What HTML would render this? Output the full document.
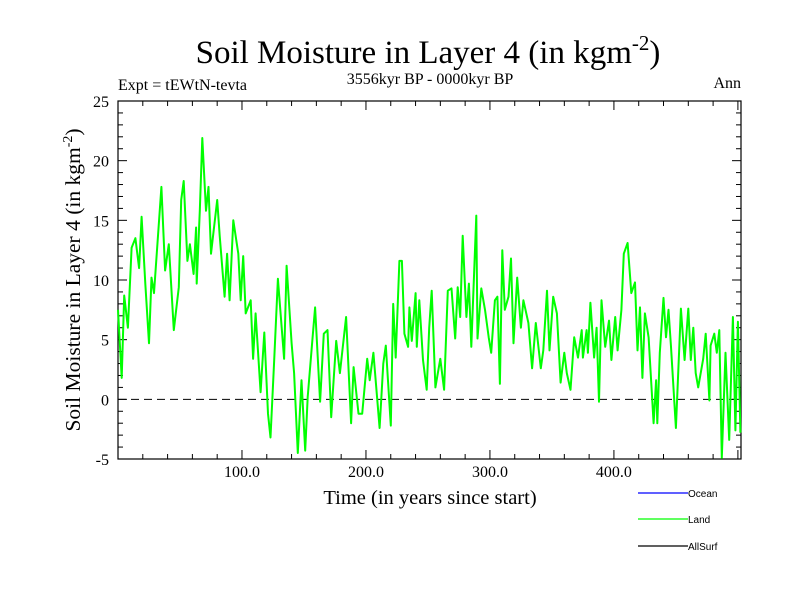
<!DOCTYPE html>
<html><head><meta charset="utf-8"><style>
body{margin:0;background:#fff;}
svg text{font-family:"Liberation Serif",serif;}
</style></head><body>
<svg id="chart" width="800" height="600" xmlns="http://www.w3.org/2000/svg">
<rect width="800" height="600" fill="#fff"/>
<text x="428" y="63" font-size="33" text-anchor="middle">Soil Moisture in Layer 4 (in kgm<tspan dy="-13" font-size="21">-2</tspan><tspan dy="13">)</tspan></text>
<text x="118" y="90" font-size="16">Expt = tEWtN-tevta</text>
<text x="430" y="84" font-size="16" text-anchor="middle">3556kyr BP - 0000kyr BP</text>
<text x="741" y="88" font-size="16" text-anchor="end">Ann</text>
<text transform="translate(80,280) rotate(-90)" font-size="21.5" text-anchor="middle">Soil Moisture in Layer 4 (in kgm<tspan dy="-8" font-size="14">-2</tspan><tspan dy="8">)</tspan></text>
<text x="430" y="504" font-size="20.5" text-anchor="middle">Time (in years since start)</text>
<g id="axes"></g>
<g id="series"></g>
<g>
<line x1="638" y1="493" x2="688" y2="493" stroke="#0000ff" stroke-width="1.3"/>
<text x="688" y="497" font-size="10" style="font-family:'Liberation Sans',sans-serif">Ocean</text>
<line x1="638" y1="519" x2="688" y2="519" stroke="#00ff00" stroke-width="1.3"/>
<text x="688" y="523" font-size="10" style="font-family:'Liberation Sans',sans-serif">Land</text>
<line x1="638" y1="546" x2="688" y2="546" stroke="#000" stroke-width="1.3"/>
<text x="688" y="550" font-size="10" style="font-family:'Liberation Sans',sans-serif">AllSurf</text>
</g>
</svg>
<script>
const xTickValues=[100,200,300,400];
const xTickLabels=["100.0","200.0","300.0","400.0"];
const yTickValues=[-5,0,5,10,15,20,25];
const years=[0,3,5,8,11,14,17,19,22,25,27,29,35,38,41,45,49,51,53,56,58,61,63,63.5,66,68,71,73,75,80,82,86,88,90,93,97,99,101,103,107,109,111,115,118,121,123,126,129,134,136,140,142,145,148,151,153,157,159,163,166,169,172,176,179,184,188,190,194,197,201,203,206,211,214,216,220,222,224,227,229,231,234,235,237,240,241,243,246,249,251,253,255,256,260,263,266,269,272,274,276,278,281,283,285,289,290,293,296,299,301,304,306,308,310,312,315,317,319,322,325,327,331,334,337,341,343,346,348,351,354,357,360,362,365,368,371,374,375,378,379,381,384,386,388,390,393,396,398,401,403,406,408,411,414,417,419,421,423,425,428,432,434,435,437,440,442,444,446,450,454,457,460,462,464,466,468,472,474,477,478,481,483,485,487,490,493,496,498,500,502];
const landValues=[7.5,1.8,8.7,6.0,12.7,13.5,11,15.3,9.7,4.7,10.2,8.9,17.8,10.8,13,5.8,9.4,16.7,18.3,11.6,13,10.5,14.4,9.7,15.8,21.9,15.8,17.8,12.2,16.7,13.7,8.6,12.2,8.3,15,12.2,8.3,12,7.2,8.3,3.4,7.2,0.6,5.6,-1.2,-3.2,3.3,10.1,3.4,11.2,4.7,2.2,-4.5,1.6,-4.3,0.2,5.2,7.7,-0.2,5.5,5.8,-1.5,4.9,2.2,6.9,-2,2.7,-1.2,-1.2,3.4,1.6,3.9,-2.4,3,4.5,-2.2,8,3.5,11.6,11.6,5.5,4.4,7.7,4.9,8.9,4.4,8.3,3.3,0.8,6,9.1,3.9,1,3.4,0.8,9.1,9.3,5.1,9.4,6.9,13.7,6.9,9.7,4.4,15.4,5.1,9.3,7.5,5.2,3.9,8.3,8.6,1.3,12.5,7.5,8.6,11.8,4.7,10.2,6,8.3,6.4,2.6,6.4,2.6,4.1,9.1,4.1,8.6,7.2,1.4,3.9,2.2,0.8,5.2,3.5,5.8,3.5,5.8,3.9,8.1,3.5,6,-0.2,8.3,4.4,6.6,3.3,6.9,4.1,7.5,12.2,13.1,8.9,9.8,4.1,7.7,1.8,7.2,5.2,-2,1.6,-2,3.9,8.5,5.2,7.5,4.4,-2.4,7.6,3.3,7.6,3.3,6,2.2,1,3.4,5.5,-0.1,4.5,5.5,3.9,5.8,-4.9,3.9,-3.4,6.9,-2.6,6.5,-2.8];
const X0=118,X1=741,Y0=459,Y1=101,XMIN=0,XMAX=502.5,YMIN=-5,YMAX=25;
const xs=v=>X0+(v-XMIN)/(XMAX-XMIN)*(X1-X0);
const ys=v=>Y0-(v-YMIN)/(YMAX-YMIN)*(Y0-Y1);
const NS="http://www.w3.org/2000/svg";
const axes=document.getElementById('axes');
function mk(tag,attrs,parent){const e=document.createElementNS(NS,tag);for(const k in attrs)e.setAttribute(k,attrs[k]);parent.appendChild(e);return e;}
const frame=mk('rect',{x:X0,y:Y1,width:X1-X0,height:Y0-Y1,fill:'none',stroke:'#000','stroke-width':1.2},axes);


for(let v=YMIN;v<=YMAX;v+=1){const y=ys(v);const L=(v%5===0)?9:5;
 mk('line',{x1:X0,y1:y,x2:X0+L,y2:y,stroke:'#000'},axes);
 mk('line',{x1:X1,y1:y,x2:X1-L,y2:y,stroke:'#000'},axes);}
for(let v=20;v<XMAX;v+=20){const x=xs(v);const L=(v%100===0)?9:5;
 mk('line',{x1:x,y1:Y0,x2:x,y2:Y0-L,stroke:'#000'},axes);
 mk('line',{x1:x,y1:Y1,x2:x,y2:Y1+L,stroke:'#000'},axes);}
yTickValues.forEach(v=>{const t=mk('text',{x:X0-9,y:ys(v)+6,'font-size':16,'text-anchor':'end'},axes);t.textContent=String(v);
 
 });
xTickValues.forEach((v,i)=>{const t=mk('text',{x:xs(v),y:Y0+18,'font-size':16,'text-anchor':'middle'},axes);t.textContent=xTickLabels[i];
 
 });
const zl=mk('line',{x1:X0,y1:ys(0),x2:X1,y2:ys(0),stroke:'#000','stroke-dasharray':'8,5'},axes);


const pts=years.map((yr,i)=>xs(yr).toFixed(1)+','+ys(landValues[i]).toFixed(1)).join(' ');
const pl=mk('polyline',{points:pts,fill:'none',stroke:'#00ff00','stroke-width':2,'stroke-linejoin':'round'},document.getElementById('series'));


</script>
</body></html>
